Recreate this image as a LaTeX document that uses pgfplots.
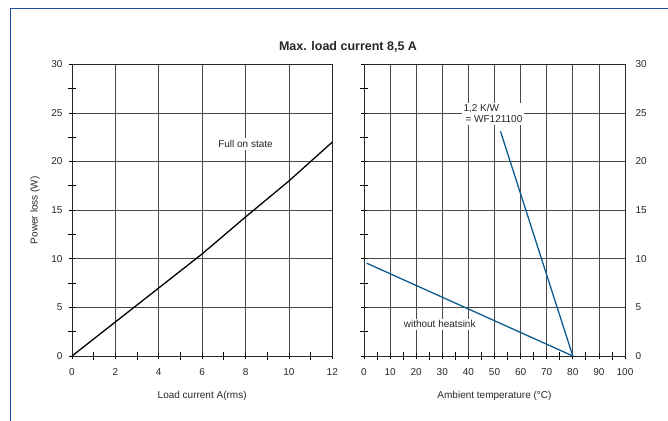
\documentclass[border=0pt]{standalone}
\usepackage{fontspec}
\setmainfont{Liberation Sans}
\usepackage{pgfplots}
\pgfplotsset{compat=1.18}
\definecolor{frameblue}{HTML}{1F4FA0}
\definecolor{lineblue}{HTML}{0A5C8E}
\pgfplotsset{
  common/.style={
    scale only axis,
    height=291.7pt,
    ymin=0, ymax=30,
    ytick={0,5,...,30},
    minor y tick num=1,
    grid=major,
    major grid style={black!72, line width=0.7pt},
    axis line style={black!85, line width=0.8pt},
    tick align=center,
    major tick length=6pt,
    minor tick length=8pt,
    every tick/.style={black, line width=0.8pt},
    xtick pos=bottom,
    ytick pos=left,
    /pgf/number format/assume math mode=true,
    ticklabel style={font=\fontsize{10}{12}\selectfont, text=black!85},
    label style={font=\fontsize{10}{12}\selectfont, text=black!85},
    xticklabel style={yshift=-6pt},
    clip=false,
  }
}
\begin{document}
\begin{tikzpicture}[x=1pt,y=1pt]
\useasboundingbox (0,0) rectangle (668,420);
\draw[frameblue, line width=1.6pt] (10.5,-2) -- (10.5,411.5) -- (670,411.5);
\node[font=\bfseries\fontsize{12.5}{14}\selectfont, text=black!85] at (348,373) {Max. load current 8,5 A};

\begin{axis}[common,
  at={(72pt,64pt)}, anchor=south west,
  width=260.3pt,
  xmin=0, xmax=12,
  xtick={0,2,...,12},
  minor x tick num=1,
  yticklabel style={xshift=-3pt},
  xlabel={Load current A(rms)},
  ylabel={Power loss (W)},
  xlabel style={at={(axis description cs:0.5,-0.136)}, anchor=center},
  ylabel style={at={(axis description cs:-0.142,0.5)}, anchor=center},
]
\addplot[black, line width=1.3pt] coordinates {(0,0) (2,3.5) (4,7) (6,10.5) (8,14.3) (10,18) (12,22)};
\node[fill=white, inner sep=2pt, font=\fontsize{10}{12}\selectfont, text=black!85] at (axis cs:8,21.8) {Full on state};
\end{axis}

\begin{axis}[common,
  at={(364pt,64pt)}, anchor=south west,
  width=261pt,
  xmin=0, xmax=100,
  xtick={0,10,...,100},
  minor x tick num=1,
  yticklabel pos=right,
  yticklabel style={xshift=4pt},
  xlabel={Ambient temperature (°C)},
  xlabel style={at={(axis description cs:0.5,-0.136)}, anchor=center},
]
\addplot[lineblue, line width=1.3pt] coordinates {(1,9.55) (80,0)};
\addplot[lineblue, line width=1.3pt] coordinates {(52.3,23.1) (80,0)};
\node[fill=white, inner sep=1.5pt, align=left, font=\fontsize{10}{11}\selectfont, text=black!85] at (axis cs:49.4,24.9) {1,2 K/W\\\hspace{2pt}= WF121100};
\node[fill=white, inner sep=2pt, font=\fontsize{10}{12}\selectfont, text=black!85] at (axis cs:29,3.26) {without heatsink};
\end{axis}
\end{tikzpicture}
\end{document}
